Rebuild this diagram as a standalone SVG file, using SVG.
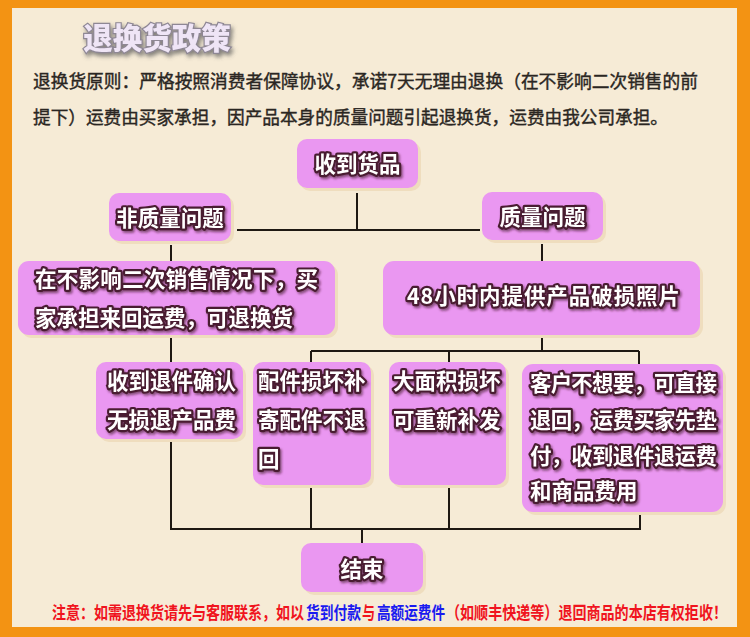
<svg xmlns="http://www.w3.org/2000/svg" width="750" height="637" viewBox="0 0 750 637">
<defs>
<style>
.node{fill:#EA97F1}
.halo{fill:#EFDDBE}
.nt{font-family:"Noto Sans CJK SC","Noto Sans",sans-serif;font-weight:bold;font-size:21.5px;fill:#ffffff;stroke:#4A1C30;stroke-width:4.4px;stroke-linejoin:round;paint-order:stroke;filter:url(#sh)}
.ln{stroke:#1E1812;stroke-width:2;fill:none}
.intro{font-family:"Noto Sans CJK SC","Noto Sans",sans-serif;font-size:18px;fill:#2A2622;stroke:#2A2622;stroke-width:0.4px}
.note{font-family:"Liberation Serif","Noto Sans CJK SC",serif;font-size:14px;font-weight:bold}
.red{fill:#F0141E}
.blue{fill:#1A1AF0}
</style>
<filter id="sh" x="-10%" y="-20%" width="130%" height="150%">
<feDropShadow dx="1.5" dy="2" stdDeviation="1.2" flood-color="#3A1020" flood-opacity="0.55"/>
</filter>
<filter id="tsh" x="-10%" y="-20%" width="130%" height="160%">
<feDropShadow dx="2" dy="3" stdDeviation="2" flood-color="#555" flood-opacity="0.7"/>
</filter>
</defs>
<rect x="0" y="0" width="750" height="637" fill="#F39313"/>
<rect x="12" y="8" width="725" height="619" fill="#F6EBD6"/>
<text x="157" y="49" text-anchor="middle" font-family="Noto Sans CJK SC,sans-serif" font-weight="900" font-size="29.5" fill="#EFE5F6" stroke="#8E8794" stroke-width="2.4" paint-order="stroke" filter="url(#tsh)">退换货政策</text>
<text class="intro" x="33" y="88" textLength="665" lengthAdjust="spacingAndGlyphs">退换货原则：严格按照消费者保障协议，承诺7天无理由退换（在不影响二次销售的前</text>
<text class="intro" x="33" y="124" textLength="635" lengthAdjust="spacingAndGlyphs">提下）运费由买家承担，因产品本身的质量问题引起退换货，运费由我公司承担。</text>
<g id="connectors">
<path class="ln" d="M357 193V230M237 230H480M171 245V261M542 244V261"/>
<path class="ln" d="M542 335V351M311 351H639M311 351V362M449 351V362M639 351V364M171 335V362"/>
<path class="ln" d="M171 440V529H640V513M311 485V529M449 485V529M362 529V543"/>
</g>
<g id="n1"><rect class="halo" x="300" y="142" width="121" height="49" rx="10"/><rect class="node" x="297" y="139" width="121" height="49" rx="10"/><text class="nt" x="357.5" y="172" text-anchor="middle">收到货品</text></g>
<g id="n2"><rect class="halo" x="112" y="196" width="122" height="48" rx="10"/><rect class="node" x="109" y="193" width="122" height="48" rx="10"/><text class="nt" x="170" y="226" text-anchor="middle">非质量问题</text></g>
<g id="n3"><rect class="halo" x="485" y="195" width="121" height="48" rx="10"/><rect class="node" x="482" y="192" width="121" height="48" rx="10"/><text class="nt" x="542.5" y="225" text-anchor="middle">质量问题</text></g>
<g id="n4"><rect class="halo" x="21" y="264" width="317" height="74" rx="11"/><rect class="node" x="18" y="261" width="317" height="74" rx="11"/><text class="nt" x="35" y="287" textLength="283">在不影响二次销售情况下，买</text><text class="nt" x="35" y="326">家承担来回运费，可退换货</text></g>
<g id="n5"><rect class="halo" x="386" y="264" width="317" height="74" rx="11"/><rect class="node" x="383" y="261" width="317" height="74" rx="11"/><text class="nt" x="407" y="304" textLength="273">48小时内提供产品破损照片</text></g>
<g id="n6"><rect class="halo" x="99" y="365" width="147" height="77" rx="10"/><rect class="node" x="96" y="362" width="147" height="77" rx="10"/><text class="nt" x="107" y="389">收到退件确认</text><text class="nt" x="107" y="428">无损退产品费</text></g>
<g id="n7"><rect class="halo" x="256" y="365" width="118" height="123" rx="10"/><rect class="node" x="253" y="362" width="118" height="123" rx="10"/><text class="nt" x="258" y="389">配件损坏补</text><text class="nt" x="258" y="428">寄配件不退</text><text class="nt" x="258" y="467">回</text></g>
<g id="n8"><rect class="halo" x="392" y="365" width="117" height="123" rx="10"/><rect class="node" x="389" y="362" width="117" height="123" rx="10"/><text class="nt" x="393" y="389">大面积损坏</text><text class="nt" x="393" y="428">可重新补发</text></g>
<g id="n9"><rect class="halo" x="525" y="367" width="201" height="148" rx="11"/><rect class="node" x="522" y="364" width="201" height="148" rx="11"/><text class="nt" x="530" y="391" textLength="187">客户不想要，可直接</text><text class="nt" x="530" y="428" textLength="187">退回，运费买家先垫</text><text class="nt" x="530" y="464" textLength="187">付，收到退件退运费</text><text class="nt" x="530" y="499">和商品费用</text></g>
<g id="n10"><rect class="halo" x="304" y="546" width="122" height="49" rx="10"/><rect class="node" x="301" y="543" width="122" height="49" rx="10"/><text class="nt" x="362" y="577" text-anchor="middle">结束</text></g>
<g transform="translate(0,619) scale(1,1.25)">
<text class="note red" x="52" y="0" textLength="252" lengthAdjust="spacingAndGlyphs">注意：如需退换货请先与客服联系，如以</text>
<text class="note blue" x="306" y="0" textLength="55" lengthAdjust="spacingAndGlyphs">货到付款</text>
<text class="note red" x="362" y="0" textLength="13" lengthAdjust="spacingAndGlyphs">与</text>
<text class="note blue" x="377" y="0" textLength="68" lengthAdjust="spacingAndGlyphs">高额运费件</text>
<text class="note red" x="446" y="0" textLength="281" lengthAdjust="spacingAndGlyphs">（如顺丰快递等）退回商品的本店有权拒收！</text>
</g>
</svg>
